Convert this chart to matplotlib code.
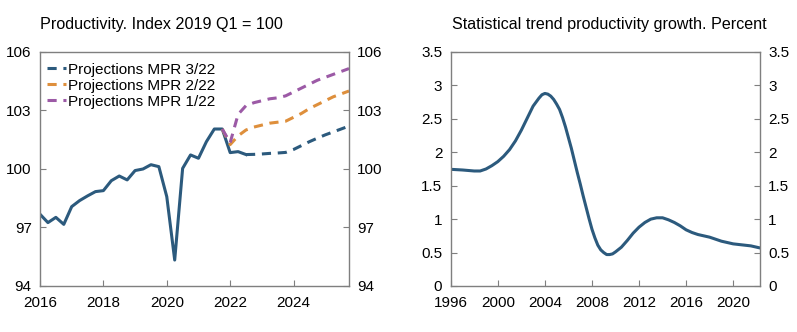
import matplotlib
matplotlib.use('Agg')
import matplotlib.pyplot as plt
import pandas as pd

plt.rcParams['font.family'] = ['Liberation Sans', 'DejaVu Sans']

# Productivity index, quarterly 2016 Q1 - 2022 Q3
hist_values = [97.68, 97.25, 97.52, 97.16,
               98.07, 98.38, 98.62, 98.84,
               98.89, 99.40, 99.64, 99.44,
               99.92, 100.00, 100.22, 100.12,
               98.58, 95.33, 100.03, 100.72,
               100.55, 101.40, 102.05, 102.05,
               100.84, 100.89, 100.74]
hist_start = '2016Q1'

# Projections
mpr322_start = '2022Q3'
mpr322 = [100.74, 100.75, 100.77, 100.80, 100.82, 100.85, 101.00, 101.20,
          101.40, 101.58, 101.75, 101.90, 102.05, 102.20]
mpr222_start = '2021Q4'
mpr222 = [102.05, 101.25, 101.70, 102.00, 102.15, 102.25, 102.35, 102.40,
          102.45, 102.65, 102.85, 103.10, 103.30, 103.50, 103.70, 103.85, 104.00]
mpr122_start = '2021Q4'
mpr122 = [102.05, 101.35, 102.80, 103.25, 103.40, 103.50, 103.60, 103.65,
          103.75, 103.95, 104.15, 104.35, 104.55, 104.70, 104.85, 105.00, 105.15]

# Statistical trend productivity growth
trend_years = [1996.0, 1997.0, 1998.0, 1998.5, 1999.0, 1999.5, 2000.0, 2000.5,
               2001.0, 2001.5, 2002.0, 2002.5, 2003.0, 2003.5, 2003.75, 2004.0,
               2004.25, 2004.5, 2004.75, 2005.0, 2005.25, 2005.5, 2005.75, 2006.0,
               2006.25, 2006.5, 2006.75, 2007.0, 2007.25, 2007.5, 2007.75, 2008.0,
               2008.25, 2008.5, 2008.75, 2009.0, 2009.25, 2009.5, 2009.75, 2010.0,
               2010.5, 2011.0, 2011.5, 2012.0, 2012.5, 2013.0, 2013.5, 2014.0,
               2014.5, 2015.0, 2015.5, 2016.0, 2016.5, 2017.0, 2017.5, 2018.0,
               2018.5, 2019.0, 2019.5, 2020.0, 2020.5, 2021.0, 2021.5, 2022.0,
               2022.25]
trend_values = [1.745, 1.735, 1.72, 1.72, 1.75, 1.80, 1.86, 1.94,
                2.04, 2.17, 2.33, 2.51, 2.69, 2.81, 2.86, 2.88,
                2.87, 2.84, 2.79, 2.72, 2.64, 2.52, 2.38, 2.22,
                2.06, 1.88, 1.70, 1.53, 1.35, 1.18, 1.01, 0.85,
                0.72, 0.61, 0.54, 0.50, 0.47, 0.47, 0.48, 0.51,
                0.58, 0.68, 0.79, 0.88, 0.95, 1.00, 1.02, 1.02,
                0.99, 0.95, 0.90, 0.84, 0.80, 0.77, 0.75, 0.73,
                0.70, 0.67, 0.65, 0.63, 0.62, 0.61, 0.60, 0.58,
                0.57]


def quarters(start, n):
    p = pd.period_range(start, periods=n, freq='Q')
    return p.year + (p.quarter - 1) / 4


blue = '#2c5a7d'
orange = '#de8f3c'
purple = '#9c5aa6'
spine_col = '#7f7f7f'

fig = plt.figure(figsize=(7.97, 3.32), dpi=100)
ax1 = fig.add_axes([0.0502, 0.1386, 0.3877, 0.7048])
ax2 = fig.add_axes([0.5655, 0.1386, 0.3881, 0.7048])

lw = 2.2
ax1.plot(quarters(hist_start, len(hist_values)), hist_values, color=blue, lw=lw,
         solid_joinstyle='round')
ax1.plot(quarters(mpr322_start, len(mpr322)), mpr322, color=blue, lw=lw,
         dashes=(3, 2.2), label='Projections MPR 3/22')
ax1.plot(quarters(mpr222_start, len(mpr222)), mpr222, color=orange, lw=lw,
         dashes=(3, 2.2), label='Projections MPR 2/22')
ax1.plot(quarters(mpr122_start, len(mpr122)), mpr122, color=purple, lw=lw,
         dashes=(3, 2.2), label='Projections MPR 1/22')

ax1.set_xlim(2016, 2025.75)
ax1.set_ylim(94, 106)
ax1.set_xticks([2016, 2018, 2020, 2022, 2024])
ax1.set_yticks([94, 97, 100, 103, 106])

ax2.plot(trend_years, trend_values, color=blue, lw=lw, solid_joinstyle='round')
ax2.set_xlim(1996, 2022.28)
ax2.set_ylim(0, 3.5)
ax2.set_xticks(range(1996, 2021, 4))
ax2.set_yticks([0, 0.5, 1, 1.5, 2, 2.5, 3, 3.5])
ax2.set_yticklabels(['0', '0.5', '1', '1.5', '2', '2.5', '3', '3.5'])

for ax in (ax1, ax2):
    for s in ax.spines.values():
        s.set_color(spine_col)
        s.set_linewidth(1.0)
    ax.tick_params(axis='both', direction='in', length=4, color=spine_col,
                   labelsize=11, left=True, right=True,
                   labelleft=True, labelright=True)
    ax.tick_params(axis='y', pad=6)
    ax.tick_params(axis='x', pad=7)

leg = ax1.legend(loc='upper left', bbox_to_anchor=(0.0, 0.983), frameon=False,
                 fontsize=11, handlelength=1.25, handletextpad=0.1,
                 labelspacing=0.12, borderaxespad=0.3, borderpad=0.15)

fig.text(0.0502, 0.925, 'Productivity. Index 2019 Q1 = 100', fontsize=11.6,
         ha='left', va='center')
fig.text(0.5667, 0.925, 'Statistical trend productivity growth. Percent',
         fontsize=11.6, ha='left', va='center')

fig.savefig('out.png', dpi=100)
